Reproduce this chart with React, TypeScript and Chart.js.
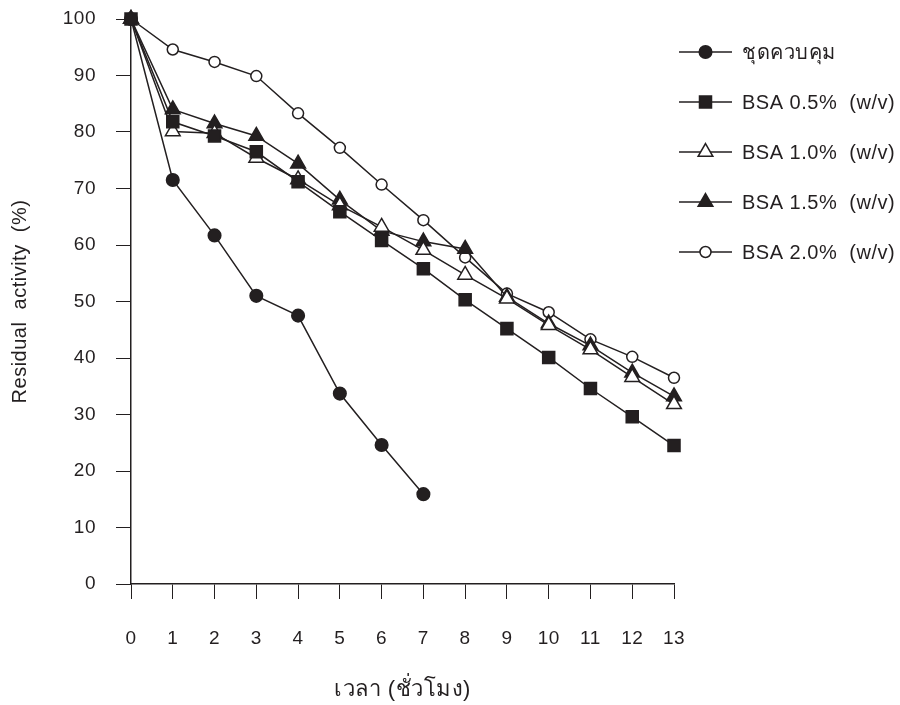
import React, { useEffect, useRef } from 'react';
import { Chart, registerables } from 'chart.js';
import { drawPoint } from 'chart.js/helpers';

Chart.register(...registerables);

const hours = [0, 1, 2, 3, 4, 5, 6, 7, 8, 9, 10, 11, 12, 13];
const controlValues = [100, 71.5, 61.7, 51.0, 47.5, 33.7, 24.6, 15.9];
const bsa05Values = [100, 81.8, 79.3, 76.5, 71.2, 65.9, 60.8, 55.8, 50.3, 45.2, 40.1, 34.6, 29.6, 24.5];
const bsa10Values = [100, 80.1, 79.8, 75.4, 71.6, 67.0, 63.2, 59.1, 54.7, 50.5, 45.8, 41.5, 36.6, 31.8];
const bsa15Values = [100, 84.0, 81.5, 79.3, 74.4, 68.0, 62.5, 60.6, 59.3, 50.8, 46.1, 42.2, 37.4, 33.2];
const bsa20Values = [100, 94.6, 92.4, 89.9, 83.3, 77.2, 70.7, 64.4, 57.8, 51.4, 48.1, 43.3, 40.2, 36.5];
const seriesLabels = ['ชุดควบคุม', 'BSA 0.5%  (w/v)', 'BSA 1.0%  (w/v)', 'BSA 1.5%  (w/v)', 'BSA 2.0%  (w/v)'];
const yTicks = [0, 10, 20, 30, 40, 50, 60, 70, 80, 90, 100];
const xTitle = 'เวลา (ชั่วโมง)';
const yTitle = 'Residual  activity  (%)';

const INK = '#231f20';
const FONT = '"Liberation Sans", Arial, "Noto Sans", "DejaVu Sans", sans-serif';

const toPoints = (vals: number[]) => vals.map((v, i) => ({ x: hours[i], y: v }));

const spacingPlugin = {
  id: 'letterSpacing',
  beforeDraw(chart: any) {
    (chart.ctx as any).letterSpacing = '0.5px';
  },
};

const legendPlugin = {
  id: 'sideLegend',
  afterDraw(chart: any) {
    const ctx = chart.ctx as CanvasRenderingContext2D;
    const area = chart.chartArea;
    const x0 = area.right + 5;
    const x1 = area.right + 58;
    const xm = (x0 + x1) / 2;
    chart.data.datasets.forEach((ds: any, i: number) => {
      const y = 52 + i * 50;
      ctx.save();
      ctx.strokeStyle = INK;
      ctx.lineWidth = 1.5;
      ctx.beginPath();
      ctx.moveTo(x0, y);
      ctx.lineTo(x1, y);
      ctx.stroke();
      ctx.fillStyle = ds.pointBackgroundColor;
      ctx.strokeStyle = ds.pointBorderColor;
      ctx.lineWidth = ds.pointBorderWidth;
      drawPoint(ctx, { pointStyle: ds.pointStyle, radius: ds.pointRadius, borderWidth: ds.pointBorderWidth, rotation: 0 } as any, xm, y);
      ctx.fillStyle = INK;
      ctx.font = `20px ${FONT}`;
      ctx.textAlign = 'left';
      ctx.textBaseline = 'middle';
      ctx.fillText(seriesLabels[i], x1 + 10, y + 1);
      ctx.restore();
    });
  },
};

function makeDataset(label: string, vals: number[], style: string, radius: number, filled: boolean) {
  return {
    label,
    data: toPoints(vals),
    borderColor: INK,
    borderWidth: 1.5,
    pointStyle: style,
    pointRadius: radius,
    pointHoverRadius: radius,
    pointBackgroundColor: filled ? INK : '#ffffff',
    pointBorderColor: INK,
    pointBorderWidth: 1.5,
    fill: false,
    tension: 0,
    clip: false,
  };
}

export default function App() {
  const canvasRef = useRef<HTMLCanvasElement | null>(null);

  useEffect(() => {
    if (!canvasRef.current) return;
    const chart = new Chart(canvasRef.current, {
      type: 'line',
      data: {
        datasets: [
          makeDataset(seriesLabels[0], controlValues, 'circle', 6.3, true),
          makeDataset(seriesLabels[1], bsa05Values, 'rect', 8.5, true),
          makeDataset(seriesLabels[2], bsa10Values, 'triangle', 8.5, false),
          makeDataset(seriesLabels[3], bsa15Values, 'triangle', 8.5, true),
          makeDataset(seriesLabels[4], bsa20Values, 'circle', 5.5, false),
        ] as any,
      },
      options: {
        animation: false,
        responsive: false,
        maintainAspectRatio: false,
        layout: { padding: { top: 19, right: 226, left: 0, bottom: 0 } },
        plugins: {
          legend: { display: false },
          tooltip: { enabled: false },
        },
        scales: {
          x: {
            type: 'linear',
            min: 0,
            max: 13,
            afterFit: (scale: any) => { scale.height = 121; },
            afterBuildTicks: (scale: any) => { scale.ticks = hours.map((h) => ({ value: h })); },
            ticks: {
              stepSize: 1,
              color: INK,
              padding: 28,
              font: { family: FONT, size: 19 },
            },
            grid: { drawOnChartArea: false, drawTicks: true, tickLength: 15, color: INK, lineWidth: 1 },
            border: { display: true, color: INK, width: 1.5 },
            title: { display: true, text: xTitle, color: INK, font: { family: FONT, size: 22 }, padding: { top: 0, bottom: 2 } },
          },
          y: {
            type: 'linear',
            min: 0,
            max: 100,
            afterFit: (scale: any) => { scale.width = 131; scale.paddingTop = 0; scale.paddingBottom = 0; },
            afterBuildTicks: (scale: any) => { scale.ticks = yTicks.map((v) => ({ value: v })); },
            ticks: {
              color: INK,
              padding: 20,
              font: { family: FONT, size: 19 },
            },
            grid: { drawOnChartArea: false, drawTicks: true, tickLength: 15, color: INK, lineWidth: 1 },
            border: { display: true, color: INK, width: 1.5 },
            title: { display: true, text: yTitle, color: INK, font: { family: FONT, size: 20 }, padding: { top: 8, bottom: 0 } },
          },
        },
      },
      plugins: [spacingPlugin, legendPlugin],
    });
    return () => chart.destroy();
  }, []);

  return (
    <div style={{ position: 'fixed', left: 0, top: 0, width: 900, height: 705, background: '#ffffff' }}>
      <canvas ref={canvasRef} width={900} height={705} style={{ width: 900, height: 705, display: 'block' }} />
    </div>
  );
}
